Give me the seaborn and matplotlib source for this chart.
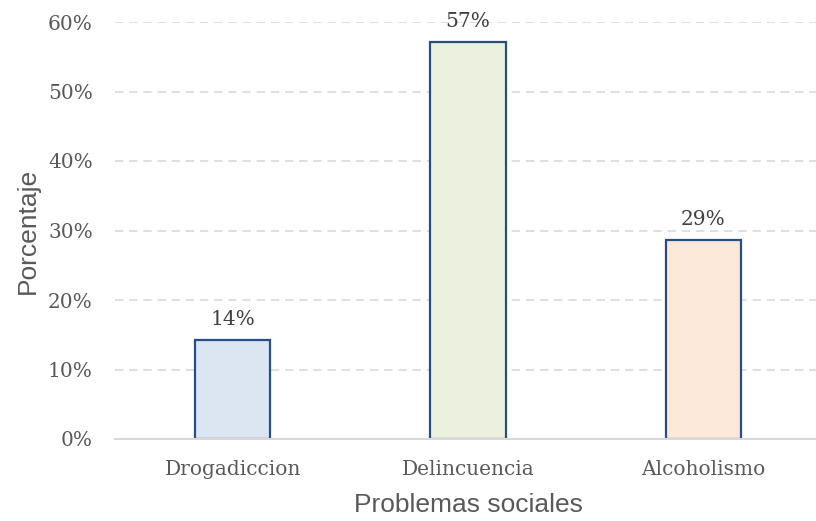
import pandas as pd
import matplotlib.pyplot as plt
import seaborn as sns
from matplotlib.ticker import PercentFormatter

# --- Datos ---
categorias = ["Drogadiccion", "Delincuencia", "Alcoholismo"]
porcentajes = [0.1429, 0.5714, 0.2857]
colores = ["#dce6f2", "#ebf1de", "#fde9d9"]
ticks_y = [0.0, 0.1, 0.2, 0.3, 0.4, 0.5, 0.6]


def main():
    df = pd.DataFrame({"Problema": categorias, "Porcentaje": porcentajes})

    sns.set_style("white")
    fig = plt.figure(figsize=(8.16, 5.21), dpi=100)
    ax = fig.add_axes([115 / 816, 82 / 521, 706 / 816, 417 / 521])

    sns.barplot(data=df, x="Problema", y="Porcentaje", hue="Problema",
                palette=colores, saturation=1, legend=False, width=0.32,
                edgecolor="#254e85", linewidth=1.6, ax=ax, zorder=3)

    # --- Ejes ---
    ax.set_ylim(0, 0.6)
    ax.set_xlim(-0.5, 2.5)
    ax.set_yticks(ticks_y)
    ax.yaxis.set_major_formatter(PercentFormatter(1.0, decimals=0))
    ax.grid(axis="y", color="#d9d9d9", linestyle=(0, (5, 3.5)), linewidth=1.2, zorder=0)
    ax.set_axisbelow(True)
    for lado in ["top", "right", "left"]:
        ax.spines[lado].set_visible(False)
    ax.spines["bottom"].set_color("#d9d9d9")
    ax.spines["bottom"].set_linewidth(1.5)
    ax.spines["bottom"].set_zorder(4)

    ax.tick_params(axis="both", length=0, colors="#595959", labelsize=14.5)
    ax.tick_params(axis="x", pad=15)
    ax.tick_params(axis="y", pad=16)
    for lbl in ax.get_xticklabels() + ax.get_yticklabels():
        lbl.set_family("DejaVu Serif")

    ax.set_xlabel("Problemas sociales", fontsize=19, color="#595959",
                  family="Liberation Sans", labelpad=10)
    ax.set_ylabel("Porcentaje", fontsize=19, color="#595959",
                  family="Liberation Sans", labelpad=6)

    # --- Etiquetas de valor ---
    for cont in ax.containers:
        ax.bar_label(cont, fmt=lambda v: f"{v:.0%}", padding=8,
                     fontsize=14.5, color="#404040", family="DejaVu Serif")

    fig.savefig("out.png", dpi=100)


if __name__ == "__main__":
    main()
